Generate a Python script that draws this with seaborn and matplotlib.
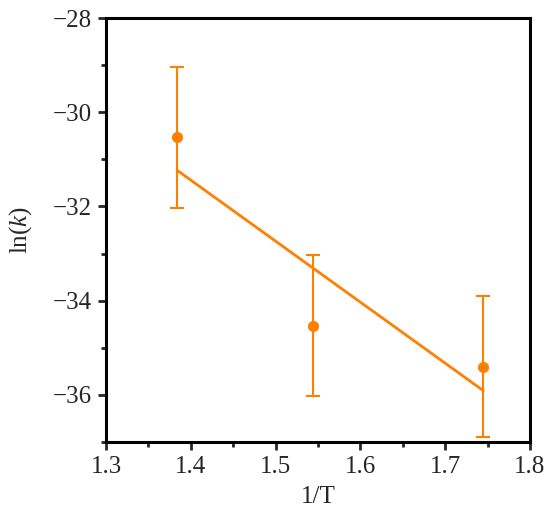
import matplotlib
matplotlib.use("Agg")
import matplotlib.pyplot as plt
import seaborn as sns
from matplotlib.ticker import MultipleLocator

# data
inv_t = [1.3837, 1.5436, 1.745]
ln_k = [-30.53, -34.53, -35.40]
ln_k_err = [1.5, 1.5, 1.5]
fit_x = [1.3837, 1.745]
fit_y = [-31.23, -35.91]

orange = "#FF8000"

sns.set_style("ticks")
plt.rcParams["font.family"] = ["Liberation Serif", "DejaVu Serif"]
plt.rcParams["mathtext.fontset"] = "custom"
plt.rcParams["mathtext.it"] = "Liberation Serif:italic"
plt.rcParams["mathtext.rm"] = "Liberation Serif"

fig = plt.figure(figsize=(5.5, 5.27), dpi=100)
ax = fig.add_axes([0.1927, 0.1613, 0.7709, 0.8045])

sns.lineplot(x=fit_x, y=fit_y, ax=ax, color=orange, linewidth=2)
ax.errorbar(inv_t, ln_k, yerr=ln_k_err, fmt="none", ecolor=orange,
            elinewidth=1.5, capsize=5, capthick=1.5)
sns.scatterplot(x=inv_t, y=ln_k, ax=ax, color=orange, s=55, edgecolor=orange, zorder=3)

ax.set_xlim(1.3, 1.8)
ax.set_ylim(-37, -28)
ax.xaxis.set_major_locator(MultipleLocator(0.1))
ax.xaxis.set_minor_locator(MultipleLocator(0.05))
ax.yaxis.set_major_locator(MultipleLocator(2))
ax.yaxis.set_minor_locator(MultipleLocator(1))

for sp in ax.spines.values():
    sp.set_linewidth(2.2)
    sp.set_color("black")
ax.tick_params(which="major", direction="out", length=6, width=2, labelsize=18, pad=4)
ax.tick_params(which="minor", direction="out", length=3.5, width=2)

ax.set_xlabel("1/T", fontsize=18, labelpad=6)
ax.set_ylabel(r"ln($\mathit{k}$)", fontsize=18, labelpad=14)

fig.savefig("out.png", dpi=100)
